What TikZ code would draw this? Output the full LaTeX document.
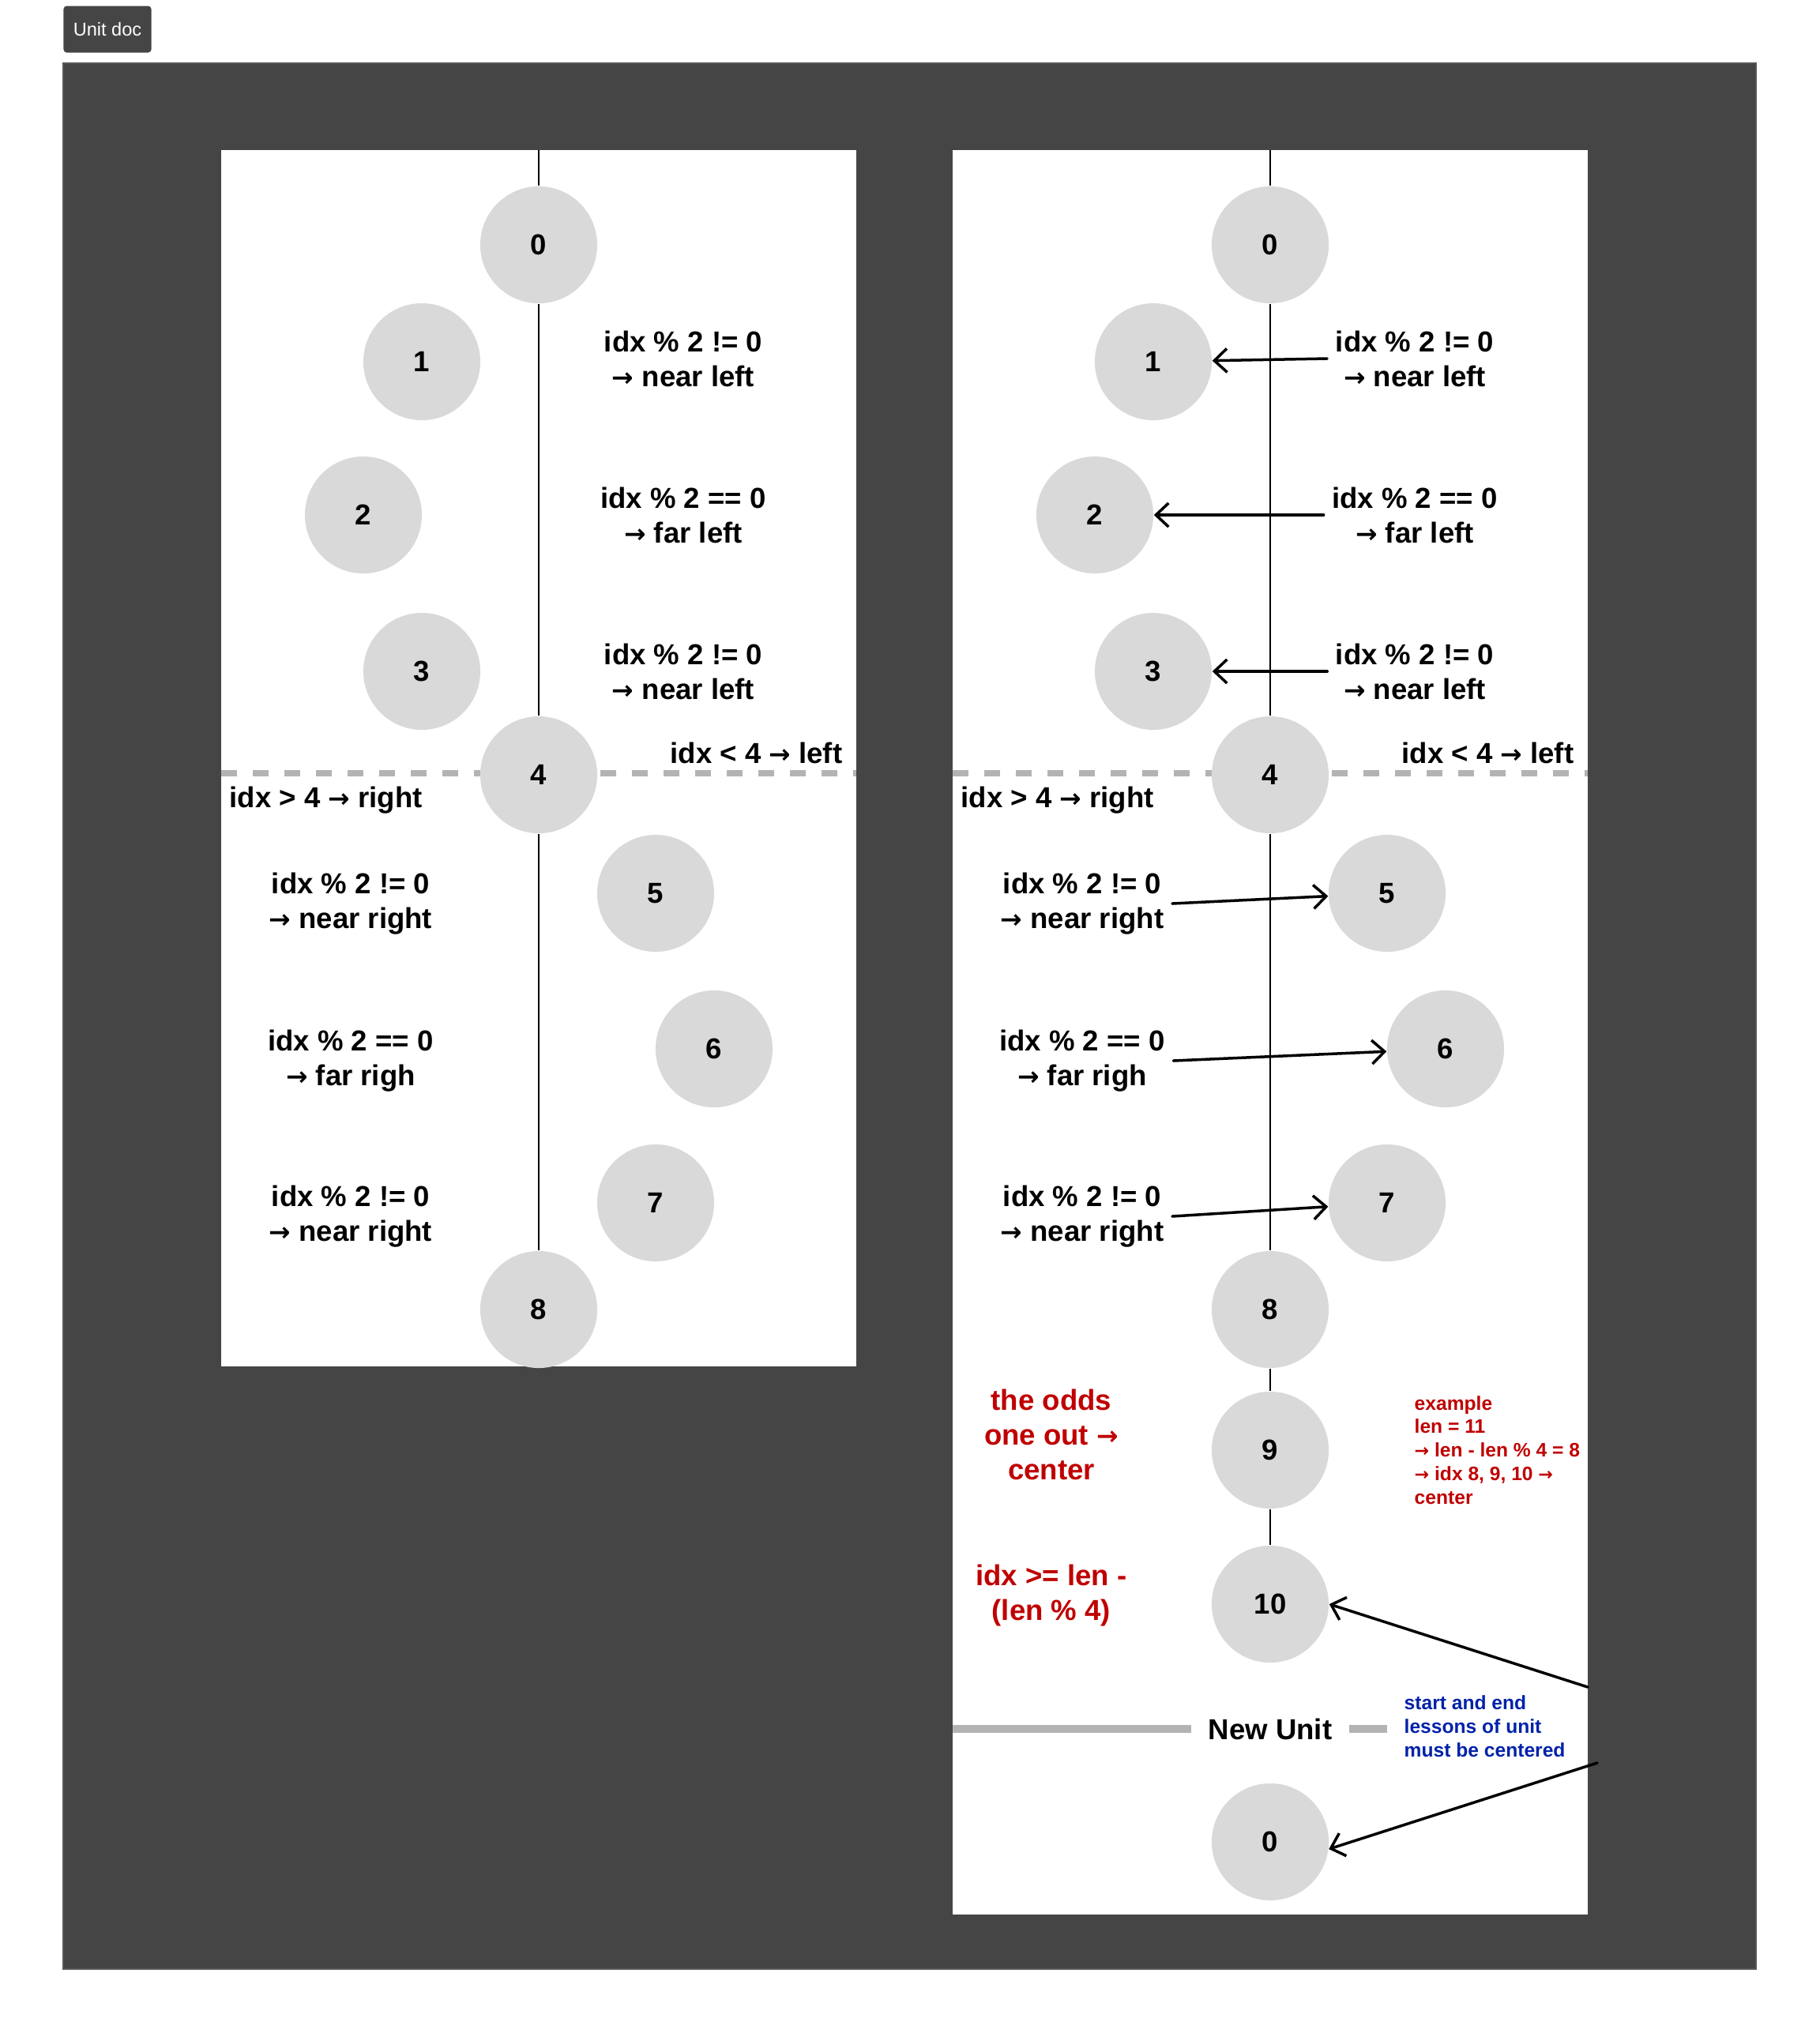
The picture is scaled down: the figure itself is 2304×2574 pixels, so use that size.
\documentclass[tikz,border=0pt]{standalone}
\usepackage{fontspec}
\setmainfont{Liberation Sans}
\newfontfamily\arrowfont{DejaVu Sans}
\newcommand\rarr{{\arrowfont\bfseries\scalebox{0.9}{→}}}
\usetikzlibrary{arrows.meta}
\definecolor{board}{RGB}{69,69,69}
\definecolor{dotgray}{RGB}{217,217,217}
\definecolor{divgray}{RGB}{179,179,179}
\definecolor{alert}{RGB}{192,0,0}
\definecolor{hint}{RGB}{0,34,170}
\tikzset{
  dot/.style={circle,fill=dotgray,minimum size=1.48cm,inner sep=0,font=\fontsize{10.4}{12.5}\selectfont\bfseries},
  rule/.style={align=center,inner sep=0.1cm,font=\fontsize{10.4}{12.5}\selectfont\bfseries},
  note/.style={align=left,anchor=west,inner sep=0,font=\fontsize{7}{8.5}\selectfont\bfseries},
  arr/.style={-{Straight Barb[length=0.16cm,width=0.3cm]},line width=0.035cm,line cap=round},
  axis/.style={line width=0.5pt},
  sep/.style={draw=divgray,line width=0.08cm,dash pattern=on 0.2cm off 0.2cm},
  unitline/.style={draw=divgray,line width=0.1cm}
}
\begin{document}
\begin{tikzpicture}[x=0.01cm,y=-0.01cm]
\useasboundingbox (0,0) rectangle (2304,2574);
%board
\node[fill=board,rounded corners=0.04cm,minimum width=1.11cm,minimum height=0.59cm,
  text=white,font=\fontsize{6.7}{8}\selectfont] (unitdoc) at (136,37) {Unit doc};
\filldraw[fill=board,draw={rgb,255:red,88;green,88;blue,88},line width=0.02cm] (80,80) rectangle (2223,2493);
\fill[white] (280,190) rectangle (1084,1730);
\fill[white] (1206,190) rectangle (2010,2424);
% left / right split
\foreach \x in {280,1206}{
\draw[sep] (\x,979) -- (\x+804,979);
}
% lessons
\foreach \p/\cx in {L/682,R/1608}{
\foreach \i/\dx/\y in {0/0/310,1/-148/458,2/-222/652,3/-148/850,4/0/981,5/148/1131,6/222/1328,7/148/1523,8/0/1658}{
\node[dot] (\p\i) at (\cx+\dx,\y) {\i};
}
\draw[axis] (\cx,190) -- (\p0) -- (\p4) -- (\p8);
\node[rule] (rule\p1) at (\cx+183,454) {idx \% 2 != 0\\\rarr{} near left};
\node[rule] (rule\p2) at (\cx+183,652) {idx \% 2 == 0\\\rarr{} far left};
\node[rule] (rule\p3) at (\cx+183,850) {idx \% 2 != 0\\\rarr{} near left};
\node[rule] (rule\p4) at (\cx-238,1144) {idx \% 2 != 0\\\rarr{} near right};
\node[rule] (rule\p5) at (\cx-238,1343) {idx \% 2 == 0\\\rarr{} far righ};
\node[rule] (rule\p6) at (\cx-238,1540) {idx \% 2 != 0\\\rarr{} near right};
\node[rule,anchor=east] (left\p) at (\cx+395,953) {idx < 4 \rarr{} left};
\node[rule,anchor=west] (right\p) at (\cx-402,1013) {idx > 4 \rarr{} right};
}
% end of unit
\node[dot] (R9) at (1608,1836) {9};
\node[dot] (R10) at (1608,2031) {10};
\node[dot] (N0) at (1608,2332) {0};
\draw[axis] (R8) -- (R9) -- (R10);
\node[rule,text=alert] (odds) at (1331,1816) {the odds\\one out \rarr\\center};
\node[rule,text=alert] (rest) at (1331,2020) {idx >= len -\\(len \% 4)};
\node[note,text=alert] (example) at (1790,1836) {example\\len = 11\\\rarr{} len - len \% 4 = 8\\\rarr{} idx 8, 9, 10 \rarr\\center};
\node[rule,inner xsep=0.21cm] (newunit) at (1608,2189) {New Unit};
\coordinate (nuL) at (1206,2189);
\coordinate (nuR) at (1756,2189);
\draw[unitline] (nuL) -- (newunit);
\draw[unitline] (newunit) -- (nuR);
\node[note,text=hint] (centered) at (1777,2186) {start and end\\lessons of unit\\must be centered};
% arrows
\foreach \i in {1,2,3}{
\draw[arr] (ruleR\i.west) -- (R\i);
}
\draw[arr] (ruleR4.east) -- (R5);
\draw[arr] (ruleR5.east) -- (R6);
\draw[arr] (ruleR6.east) -- (R7);
\coordinate (a10) at (2010,2136);
\coordinate (a0) at (2022,2232);
\draw[arr] (a10) -- (R10.east);
\draw[arr] (a0) -- (N0.-7);
\end{tikzpicture}
\end{document}
